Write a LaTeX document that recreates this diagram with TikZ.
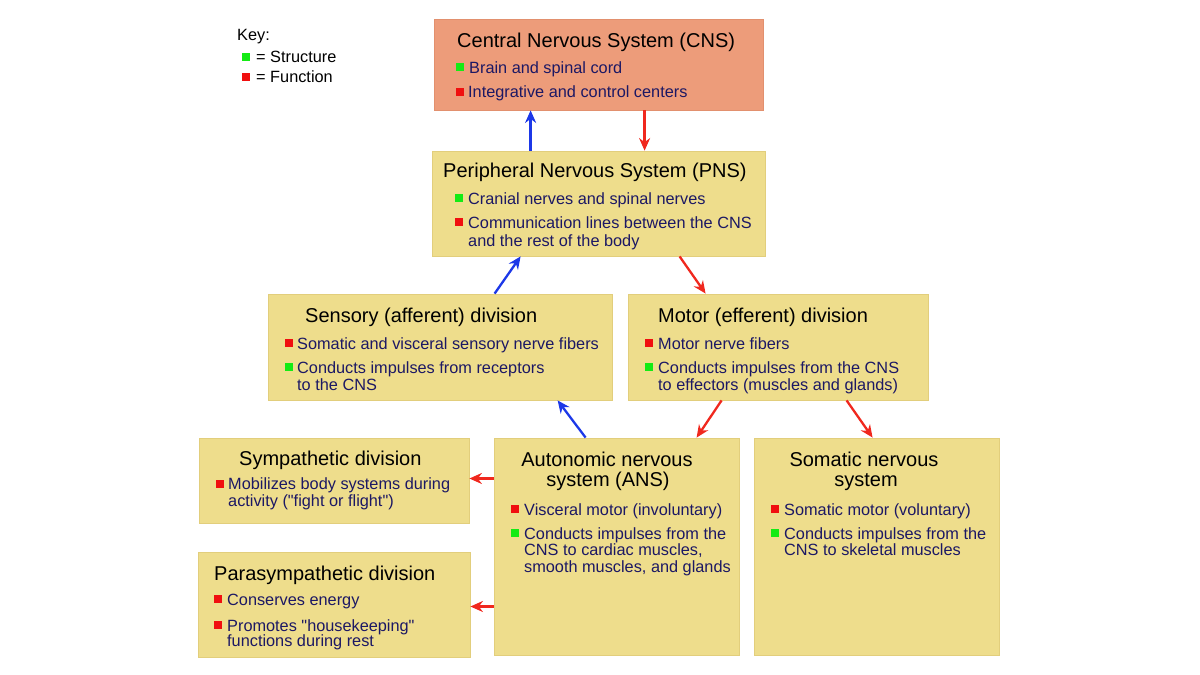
\documentclass[tikz,border=0pt]{standalone}
\usepackage{fontspec}
\setmainfont{Liberation Sans}[Ligatures=TeXOff]
\usetikzlibrary{arrows.meta}
\definecolor{boxfill}{RGB}{238,221,140}
\definecolor{boxline}{RGB}{226,206,124}
\definecolor{cnsfill}{RGB}{237,156,122}
\definecolor{cnsline}{RGB}{226,144,110}
\definecolor{navy}{RGB}{28,24,100}
\definecolor{sqgreen}{RGB}{20,235,20}
\definecolor{sqred}{RGB}{240,15,15}
\definecolor{arblue}{RGB}{28,56,232}
\definecolor{arred}{RGB}{240,40,30}
\tikzset{
  box/.style={rectangle, fill=boxfill, draw=boxline, line width=0.8pt, inner sep=0pt},
  cnsbox/.style={box, fill=cnsfill, draw=cnsline},
  ttl/.style={inner sep=0pt, anchor=base west, font=\fontsize{20}{24}\selectfont, text=black},
  ttlc/.style={ttl, anchor=base},
  txt/.style={inner sep=0pt, anchor=base west, font=\fontsize{16.3}{18}\selectfont, text=navy},
  keytxt/.style={txt, text=black},
  sqg/.style={rectangle, fill=sqgreen, minimum size=8.5pt, inner sep=0pt},
  sqr/.style={rectangle, fill=sqred, minimum size=8.5pt, inner sep=0pt},
  barrow/.style={draw=arblue, line width=2.3pt, -{Stealth[length=12.5pt,width=11pt]}},
  rarrow/.style={draw=arred, line width=2.3pt, -{Stealth[length=12.5pt,width=11pt]}}
}
\begin{document}
\begin{tikzpicture}[x=1pt,y=-1pt]
\useasboundingbox (0,0) rectangle (1200,675);
% boxes
\node[cnsbox, minimum width=329pt, minimum height=91pt] (cns) at (598.5,64.5) {};
\node[box, minimum width=333pt, minimum height=105pt] (pns) at (598.5,203.5) {};
\node[box, minimum width=344pt, minimum height=106pt] (sens) at (440,347) {};
\node[box, minimum width=300pt, minimum height=106pt] (mot) at (778,347) {};
\node[box, minimum width=270pt, minimum height=85pt] (sym) at (334,480.5) {};
\node[box, minimum width=272pt, minimum height=105pt] (para) at (334,604.5) {};
\node[box, minimum width=245pt, minimum height=217pt] (ans) at (616.5,546.5) {};
\node[box, minimum width=245pt, minimum height=217pt] (som) at (876.5,546.5) {};

% key
\node[keytxt] (key) at (237,40) {Key:};
\node[sqg] (ksg) at (246,57) {};
\node[keytxt] (kst) at (256,62.5) {= Structure};
\node[sqr] (ksr) at (246,77) {};
\node[keytxt] (kfn) at (256,82.5) {= Function};

% CNS
\node[ttl] (cnst) at (457,47) {Central Nervous System (CNS)};
\node[sqg] (cnsq1) at (460,67) {};
\node[txt] (cnsl1) at (469,73) {Brain and spinal cord};
\node[sqr] (cnsq2) at (460,92) {};
\node[txt] (cnsl2) at (468,97.5) {Integrative and control centers};

% PNS
\node[ttl] (pnst) at (443,177) {Peripheral Nervous System (PNS)};
\node[sqg] (pnsq1) at (459,198) {};
\node[txt] (pnsl1) at (468,204) {Cranial nerves and spinal nerves};
\node[sqr] (pnsq2) at (459,222) {};
\node[txt] (pnsl2) at (468,228) {Communication lines between the CNS};
\node[txt] (pnsl3) at (468,246) {and the rest of the body};

% Sensory
\node[ttl] (senst) at (305,322) {Sensory (afferent) division};
\node[sqr] (sensq1) at (289,343) {};
\node[txt] (sensl1) at (297,349) {Somatic and visceral sensory nerve fibers};
\node[sqg] (sensq2) at (289,367) {};
\node[txt] (sensl2) at (297,373) {Conducts impulses from receptors};
\node[txt] (sensl3) at (297,390) {to the CNS};

% Motor
\node[ttl] (mott) at (658,322) {Motor (efferent) division};
\node[sqr] (motq1) at (649,343) {};
\node[txt] (motl1) at (658,349) {Motor nerve fibers};
\node[sqg] (motq2) at (649,367) {};
\node[txt] (motl2) at (658,373) {Conducts impulses from the CNS};
\node[txt] (motl3) at (658,390) {to effectors (muscles and glands)};

% Sympathetic
\node[ttl] (symt) at (239,465) {Sympathetic division};
\node[sqr] (symq1) at (220,484) {};
\node[txt] (syml1) at (228,489.5) {Mobilizes body systems during};
\node[txt] (syml2) at (228,506.5) {activity ("fight or flight")};

% Parasympathetic
\node[ttl] (parat) at (214,580) {Parasympathetic division};
\node[sqr] (paraq1) at (218,599) {};
\node[txt] (paral1) at (227,605) {Conserves energy};
\node[sqr] (paraq2) at (218,625) {};
\node[txt] (paral2) at (227,631) {Promotes "housekeeping"};
\node[txt] (paral3) at (227,646.5) {functions during rest};

% ANS
\node[ttlc] (anst1) at (607,466) {Autonomic nervous};
\node[ttlc] (anst2) at (608,486) {system (ANS)};
\node[sqr] (ansq1) at (515,509) {};
\node[txt] (ansl1) at (524,515) {Visceral motor (involuntary)};
\node[sqg] (ansq2) at (515,533) {};
\node[txt] (ansl2) at (524,539) {Conducts impulses from the};
\node[txt] (ansl3) at (524,555.5) {CNS to cardiac muscles,};
\node[txt] (ansl4) at (524,572.5) {smooth muscles, and glands};

% Somatic
\node[ttlc] (somt1) at (864,466) {Somatic nervous};
\node[ttlc] (somt2) at (866,486) {system};
\node[sqr] (somq1) at (775,509) {};
\node[txt] (soml1) at (784,515) {Somatic motor (voluntary)};
\node[sqg] (somq2) at (775,533) {};
\node[txt] (soml2) at (784,539) {Conducts impulses from the};
\node[txt] (soml3) at (784,555.5) {CNS to skeletal muscles};

% arrows
\draw[barrow] ([xshift=99pt]pns.north west) -- ([xshift=97pt]cns.south west);
\draw[rarrow] ([xshift=211pt]cns.south west) -- ([xshift=213pt]pns.north west);
\draw[barrow] ([xshift=227pt]sens.north west) -- ([xshift=89pt]pns.south west);
\draw[rarrow] ([xshift=248pt]pns.south west) -- ([xshift=78pt]mot.north west);
\draw[barrow] ([xshift=92pt]ans.north west) -- ([xshift=290pt]sens.south west);
\draw[rarrow] ([xshift=94pt]mot.south west) -- ([xshift=203pt]ans.north west);
\draw[rarrow] ([xshift=219pt]mot.south west) -- ([xshift=119pt]som.north west);
\draw[rarrow] ([yshift=2pt]ans.west |- sym.east) -- ([yshift=2pt]sym.east);
\draw[rarrow] ([yshift=-2pt]ans.west |- para.east) -- ([yshift=-2pt]para.east);
\end{tikzpicture}
\end{document}
